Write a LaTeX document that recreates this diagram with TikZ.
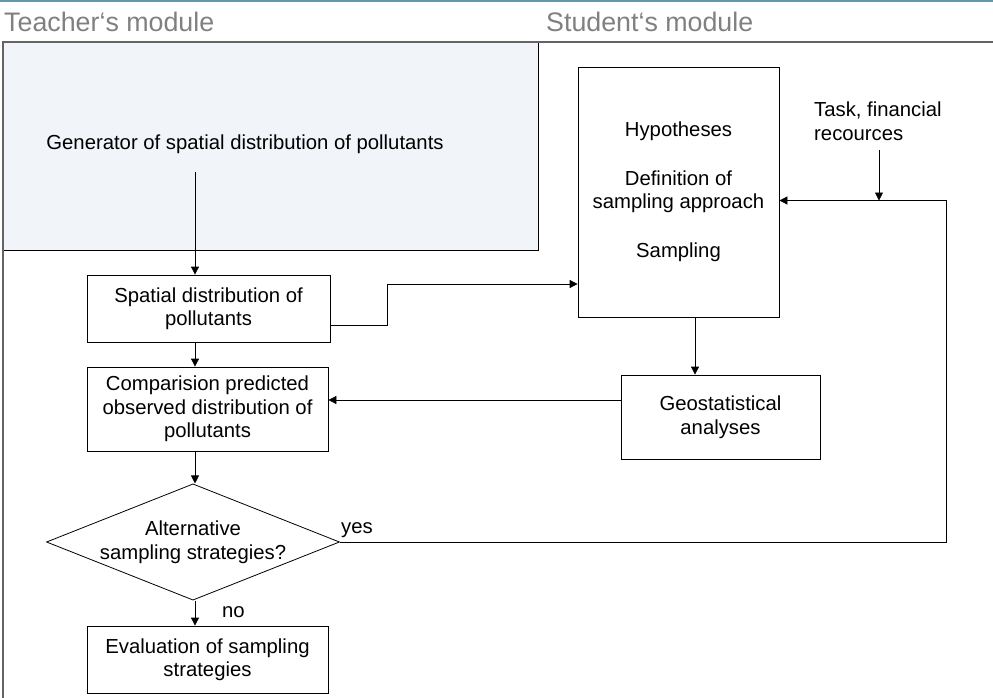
\documentclass[tikz,border=0pt]{standalone}
\usepackage{fontspec}
\setmainfont{Liberation Sans}
\usetikzlibrary{arrows.meta,shapes.geometric}
\definecolor{topteal}{RGB}{100,150,175}
\definecolor{framegray}{RGB}{100,100,100}
\definecolor{headgray}{RGB}{128,128,128}
\definecolor{genfill}{RGB}{241,245,249}
\begin{document}
\begin{tikzpicture}[x=1pt,y=-1pt,
  bodytext/.style={font=\fontsize{20.3}{23.5}\selectfont},
  headtext/.style={font=\fontsize{26.8}{30}\selectfont,text=headgray,inner sep=0pt},
  procbox/.style={draw=black,line width=0.8pt,rectangle,inner sep=0pt,align=center,bodytext},
  decision/.style={draw=black,line width=0.8pt,diamond,aspect=2.52,inner sep=0pt,align=center,bodytext,minimum width=292pt,minimum height=116pt},
  arr/.style={draw=black,line width=0.8pt,-{Triangle[length=8pt,width=8pt]}},
  plain/.style={draw=black,line width=0.8pt}
]
\useasboundingbox (0,0) rectangle (993,698);
% frame
\draw[topteal,line width=2pt] (0,1) -- (993,1);
\node[headtext,anchor=base west] (th) at (4,32) {Teacher‘s module};
\node[headtext,anchor=base west] (sh) at (546,32) {Student‘s module};
\node[rectangle,fill=genfill,draw=none,inner sep=0pt,minimum width=535pt,minimum height=208pt,anchor=north west] (genbox) at (3,42) {};
\draw[black,line width=0.8pt] (genbox.north east) -- (genbox.south east) -- (genbox.south west);
\draw[framegray,line width=2pt] (993,42) -- (3,42) -- (3,698);
% nodes
\node[bodytext,inner sep=0pt] (gen) at (245,144) {Generator of spatial distribution of pollutants};
\node[procbox,minimum width=243pt,minimum height=67pt] (sp) at (208.5,308.5) {Spatial distribution of\\pollutants};
\node[procbox,minimum width=241pt,minimum height=84pt] (cmp) at (207.5,409) {Comparision predicted\\observed distribution of\\pollutants};
\node[decision] (dia) at (193,542) {Alternative\\sampling strategies?};
\node[procbox,minimum width=241pt,minimum height=67pt] (ev) at (207.5,659.5) {Evaluation of sampling\\strategies};
\node[procbox,minimum width=201pt,minimum height=250pt] (hyp) at (678.5,192) {Hypotheses\\[25pt]Definition of\\sampling approach\\[25pt]Sampling};
\node[procbox,minimum width=199pt,minimum height=84pt] (geo) at (720.5,417) {Geostatistical\\analyses};
\node[bodytext,inner sep=0pt,align=left,anchor=north west] (task) at (814,102) {Task, financial\\recources};
\node[bodytext,inner sep=0pt,anchor=base west] (yes) at (341,533) {yes};
\node[bodytext,inner sep=0pt,anchor=base west] (no) at (222,617) {no};
% coordinates
\coordinate (g1) at (195,172);
\coordinate (k1) at (387,325);
\coordinate (k2) at (387,284);
\coordinate (ret) at (946,200.5);
\coordinate (t1) at (879,150);
\coordinate (h1) at (695,317);
\coordinate (c1) at (600,400);
% connectors
\draw[arr] (g1) -- (g1 |- sp.north);
\draw[arr] (sp.south -| g1) -- (cmp.north -| g1);
\draw[arr] (cmp.south -| g1) -- (dia.north -| g1);
\draw[arr] (dia.south -| g1) -- (ev.north -| g1);
\draw[arr] (sp.east |- k1) -- (k1) -- (k2) -- (hyp.west |- k2);
\draw[arr] (dia.east) -| (ret) -- (hyp.east |- ret);
\draw[arr] (t1) -- (t1 |- ret);
\draw[arr] (h1 |- hyp.south) -- (h1 |- geo.north);
\draw[arr] (geo.west |- c1) -- (cmp.east |- c1);
\end{tikzpicture}
\end{document}
